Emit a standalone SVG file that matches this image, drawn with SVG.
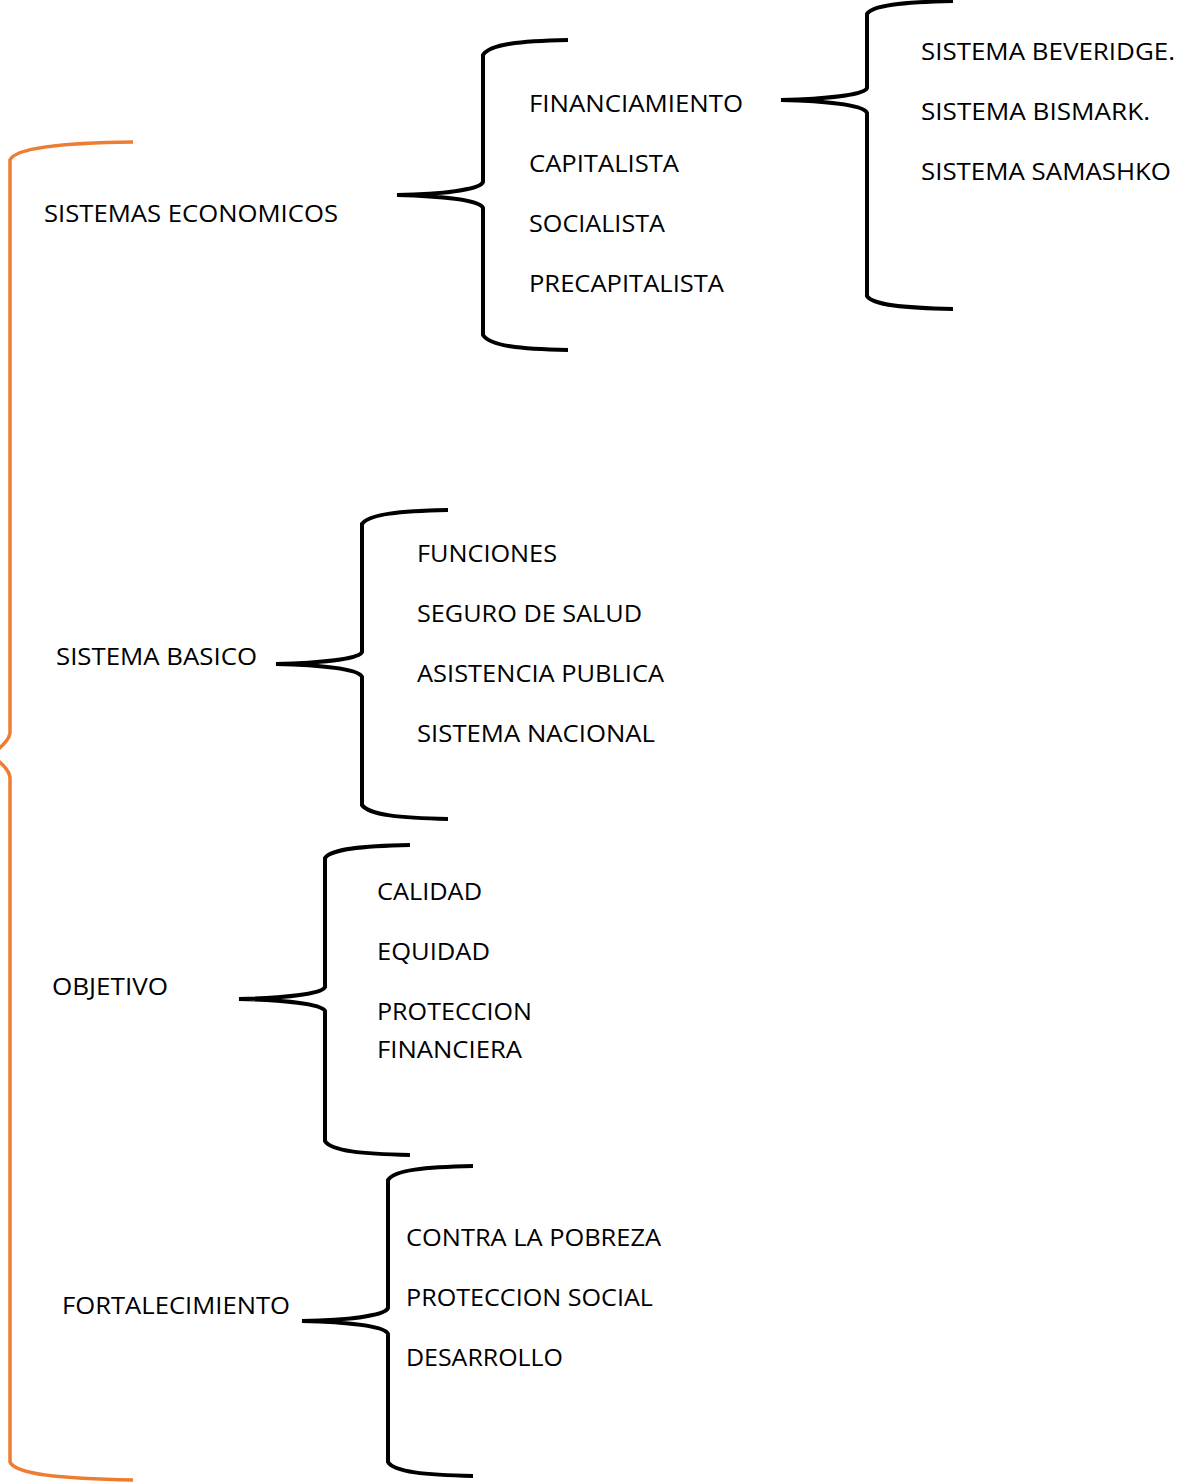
<svg xmlns="http://www.w3.org/2000/svg" width="1182" height="1482" viewBox="0 0 1182 1482">
<style>
text{font-family:"Open Sans","Noto Sans","Liberation Sans",sans-serif;font-size:24px;fill:#000}
.br{fill:none;stroke:#000;stroke-width:4;stroke-linecap:butt}
.ob{fill:none;stroke:#ED7D31;stroke-width:3.5}
</style>
<rect width="1182" height="1482" fill="#fff"/>
<g id="connectors">
<path class="ob" d="M133,142 C60,143 15,148 10,160 L10,733 C9,740 4,744 -8,755 C4,766 9,770 10,777 L10,1462 C15,1474 60,1479 133,1480"/>
<path class="br" d="M568,40 C520,41 490,44 483,55 L483,182 C480,190 440,194 397,195 C440,196 480,200 483,208 L483,335 C490,346 520,349 568,350"/>
<path class="br" d="M953,1 C905,2 872,5 867,14 L867,88 C864,95 825,99 781,100 C825,101 864,105 867,113 L867,296 C872,305 905,308 953,309"/>
<path class="br" d="M448,510 C400,511 369,514 362,524 L362,652 C359,659 320,663 276,664 C320,665 359,669 362,677 L362,805 C369,815 400,818 448,819"/>
<path class="br" d="M410,845 C362,846 331,849 325,858 L325,987 C322,994 283,998 239,999 C283,1000 322,1004 325,1011 L325,1141 C331,1151 362,1154 410,1155"/>
<path class="br" d="M473,1166 C425,1167 394,1170 388,1180 L388,1308 C385,1316 346,1320 302,1321 C346,1322 385,1326 388,1334 L388,1462 C394,1472 425,1475 473,1476"/>
</g>
<g id="n-sistemas-economicos"><text x="44" y="222" textLength="294" lengthAdjust="spacingAndGlyphs">SISTEMAS ECONOMICOS</text></g>
<g id="n-financiamiento"><text x="529" y="112" textLength="214" lengthAdjust="spacingAndGlyphs">FINANCIAMIENTO</text></g>
<g id="n-capitalista"><text x="529" y="172" textLength="150" lengthAdjust="spacingAndGlyphs">CAPITALISTA</text></g>
<g id="n-socialista"><text x="529" y="232" textLength="136" lengthAdjust="spacingAndGlyphs">SOCIALISTA</text></g>
<g id="n-precapitalista"><text x="529" y="292" textLength="195" lengthAdjust="spacingAndGlyphs">PRECAPITALISTA</text></g>
<g id="n-beveridge"><text x="921" y="60" textLength="254" lengthAdjust="spacingAndGlyphs">SISTEMA BEVERIDGE.</text></g>
<g id="n-bismark"><text x="921" y="120" textLength="229" lengthAdjust="spacingAndGlyphs">SISTEMA BISMARK.</text></g>
<g id="n-samashko"><text x="921" y="180" textLength="250" lengthAdjust="spacingAndGlyphs">SISTEMA SAMASHKO</text></g>
<g id="n-sistema-basico"><text x="56" y="665" textLength="201" lengthAdjust="spacingAndGlyphs">SISTEMA BASICO</text></g>
<g id="n-funciones"><text x="417" y="562" textLength="140" lengthAdjust="spacingAndGlyphs">FUNCIONES</text></g>
<g id="n-seguro"><text x="417" y="622" textLength="225" lengthAdjust="spacingAndGlyphs">SEGURO DE SALUD</text></g>
<g id="n-asistencia"><text x="417" y="682" textLength="247" lengthAdjust="spacingAndGlyphs">ASISTENCIA PUBLICA</text></g>
<g id="n-nacional"><text x="417" y="742" textLength="238" lengthAdjust="spacingAndGlyphs">SISTEMA NACIONAL</text></g>
<g id="n-objetivo"><text x="52" y="995" textLength="116" lengthAdjust="spacingAndGlyphs">OBJETIVO</text></g>
<g id="n-calidad"><text x="377" y="900" textLength="105" lengthAdjust="spacingAndGlyphs">CALIDAD</text></g>
<g id="n-equidad"><text x="377" y="960" textLength="113" lengthAdjust="spacingAndGlyphs">EQUIDAD</text></g>
<g id="n-proteccion-financiera"><text x="377" y="1020" textLength="155" lengthAdjust="spacingAndGlyphs">PROTECCION</text><text x="377" y="1058" textLength="145" lengthAdjust="spacingAndGlyphs">FINANCIERA</text></g>
<g id="n-fortalecimiento"><text x="62" y="1314" textLength="228" lengthAdjust="spacingAndGlyphs">FORTALECIMIENTO</text></g>
<g id="n-pobreza"><text x="406" y="1246" textLength="255" lengthAdjust="spacingAndGlyphs">CONTRA LA POBREZA</text></g>
<g id="n-social"><text x="406" y="1306" textLength="247" lengthAdjust="spacingAndGlyphs">PROTECCION SOCIAL</text></g>
<g id="n-desarrollo"><text x="406" y="1366" textLength="157" lengthAdjust="spacingAndGlyphs">DESARROLLO</text></g>
</svg>
